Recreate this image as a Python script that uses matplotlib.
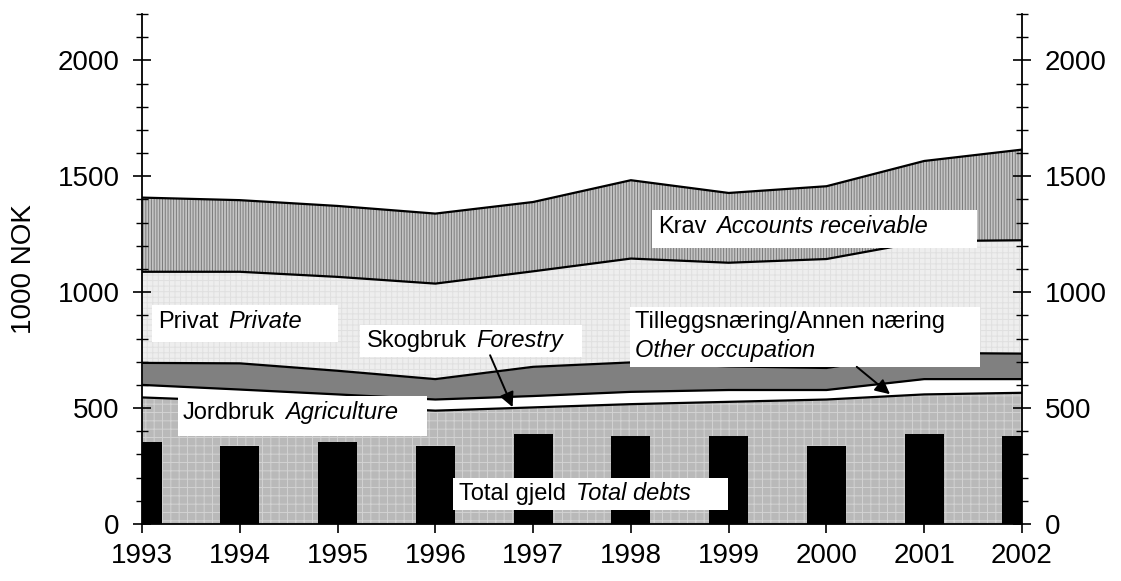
import numpy as np
import matplotlib
matplotlib.use("Agg")
import matplotlib.pyplot as plt
from matplotlib.patches import Rectangle

plt.rcParams['font.family'] = ['Liberation Sans', 'DejaVu Sans']
plt.rcParams['hatch.linewidth'] = 0.7

# ---- data (1000 NOK) ----
years = [1993, 1994, 1995, 1996, 1997, 1998, 1999, 2000, 2001, 2002]
agriculture = [546, 530, 508, 489, 503, 517, 527, 537, 559, 566]
forestry = [54, 50, 51, 48, 49, 53, 51, 41, 66, 59]
other_occupation = [95, 113, 102, 88, 126, 127, 102, 95, 113, 110]
private = [393, 395, 405, 412, 412, 448, 447, 470, 482, 489]
accounts_receivable = [320, 309, 306, 302, 299, 338, 301, 314, 346, 391]
total_debts = [355, 337, 355, 337, 388, 379, 379, 337, 388, 379]
y_ticks = [0, 500, 1000, 1500, 2000]

series = [agriculture, forestry, other_occupation, private, accounts_receivable]
faces = ['#b9b9b9', '#ffffff', '#808080', '#eeeeee', '#c4c4c4']
hatch_cols = ['#d2d2d2', '#ffffff', '#808080', '#e0e0e0', '#7a7a7a']
hatches = ['++', None, None, '+++', '||||||']

fig = plt.figure(figsize=(11.21, 5.81), dpi=100)
ax = fig.add_axes([142/1121, 57/581, 880/1121, 510/581])

x = np.array(years, dtype=float)
cum = np.cumsum(np.array(series, dtype=float), axis=0)
lower = np.zeros_like(x)
for i, top in enumerate(cum):
    ax.fill_between(x, lower, top, facecolor=faces[i], edgecolor=hatch_cols[i],
                    hatch=hatches[i], linewidth=0, zorder=1)
    lower = top
for top in cum:
    ax.plot(x, top, color='black', lw=1.6, zorder=2, solid_joinstyle='round')

ax.bar(x, total_debts, width=0.4, color='black', zorder=3)

ax.set_xlim(1993, 2002)
ax.set_ylim(0, 2200)
ax.spines['top'].set_visible(False)
for s in ['left', 'right', 'bottom']:
    ax.spines[s].set_linewidth(1.3)
    ax.spines[s].set_zorder(6)

ax.set_xticks(years)
ax.set_xticklabels([str(y) for y in years])
ax.set_yticks(y_ticks)
ax.set_yticks(range(0, 2201, 100), minor=True)
ax.tick_params(axis='x', direction='out', length=6.5, width=1.2, labelsize=20, pad=7)
ax.tick_params(axis='y', which='major', direction='inout', length=13.5, width=1.2,
               left=True, right=True, labelleft=True, labelright=True,
               labelsize=20, pad=9.5)
ax.tick_params(axis='y', which='minor', direction='inout', length=8.5, width=1.0,
               left=True, right=True)
ax.set_ylabel('1000 NOK', fontsize=20, labelpad=15)

# ---- labels with white boxes ----
FS = 17

def box(x0, x1, y0, y1):
    ax.add_patch(Rectangle((x0, y0), x1 - x0, y1 - y0, facecolor='white',
                           edgecolor='none', zorder=4))

def label(xp, yp, reg, ital, gap=7):
    t = ax.text(xp, yp, reg, fontsize=FS, va='baseline', ha='left', zorder=5)
    if ital:
        ax.annotate(ital, xy=(1, 0), xycoords=t, xytext=(gap, 0),
                    textcoords='offset points', fontsize=FS, style='italic',
                    va='bottom', ha='left', zorder=5)
    return t

box(1993.10, 1995.00, 784, 944)
label(1993.16, 845, 'Privat', 'Private')

box(1995.23, 1997.50, 720, 858)
label(1995.30, 763, 'Skogbruk', 'Forestry')

box(1998.22, 2001.54, 1190, 1353)
label(1998.28, 1254, 'Krav', 'Accounts receivable')

box(1997.99, 2001.57, 677, 935)
ax.text(1998.04, 845, 'Tilleggsnæring/Annen næring', fontsize=FS, va='baseline', zorder=5)
ax.text(1998.04, 720, 'Other occupation', fontsize=FS, va='baseline',
        style='italic', zorder=5)

box(1993.37, 1995.91, 379, 552)
label(1993.42, 453, 'Jordbruk', 'Agriculture')

box(1996.18, 1998.99, 60, 198)
label(1996.24, 103, 'Total gjeld', 'Total debts')

arrow = dict(arrowstyle='-|>', color='black', lw=1.4, mutation_scale=22,
             shrinkA=0, shrinkB=0)
ax.annotate('', xy=(1996.79, 504), xytext=(1996.56, 728), arrowprops=arrow, zorder=6)
ax.annotate('', xy=(2000.65, 560), xytext=(2000.31, 678), arrowprops=arrow, zorder=6)

fig.savefig('out.png', dpi=100)
